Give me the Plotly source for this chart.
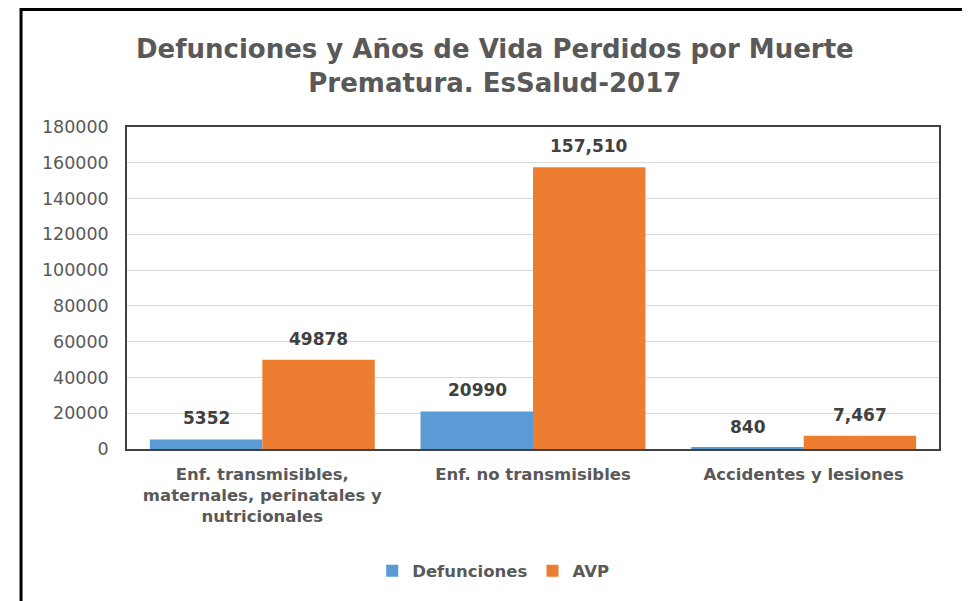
import plotly.graph_objects as go

categories = ["Enf. transmisibles,<br>maternales, perinatales y<br>nutricionales",
              "Enf. no transmisibles",
              "Accidentes y lesiones"]
defunciones = [5352, 20990, 840]
avp = [49878, 157510, 7467]
def_labels = ["5352", "20990", "840"]
avp_labels = ["49878", "157,510", "7,467"]
y_ticks = [0, 20000, 40000, 60000, 80000, 100000, 120000, 140000, 160000, 180000]

FONT = "DejaVu Sans"
BLUE, ORANGE = "#5B9BD5", "#ED7D31"

fig = go.Figure()
fig.add_trace(go.Bar(name="Defunciones", x=categories, y=defunciones, marker_color=BLUE,
                     marker_line_width=0))
fig.add_trace(go.Bar(name="AVP", x=categories, y=avp, marker_color=ORANGE,
                     marker_line_width=0))

# data labels placed from data values (shifted to sit over each bar of the group)
for vals, labels, shift in ((defunciones, def_labels, -56), (avp, avp_labels, 56)):
    for c, v, t in zip(categories, vals, labels):
        fig.add_annotation(x=c, y=v, text=t, showarrow=False, xref="x", yref="y",
                           xanchor="center", yanchor="bottom", xshift=shift, yshift=9,
                           font=dict(family=FONT, size=17, color="#404040", weight="bold"))

fig.update_layout(
    width=962, height=593,
    margin=dict(l=119, r=31, t=119, b=152),
    paper_bgcolor="white", plot_bgcolor="white",
    barmode="group", bargap=0.169, bargroupgap=0,
    title=dict(text="Defunciones y Años de Vida Perdidos por Muerte<br>Prematura. EsSalud-2017",
               x=0.453, xanchor="center", xref="paper", y=0.916, yanchor="middle",
               font=dict(family=FONT, size=26, color="#595959", weight="bold")),
    legend=dict(orientation="h", x=0.451, xanchor="center", y=-0.379, yanchor="middle",
                font=dict(family=FONT, size=16.5, color="#595959", weight="bold")),
    font=dict(family=FONT),
    showlegend=True,
)
fig.update_xaxes(showline=True, linecolor="#404040", linewidth=1.5, mirror=True,
                 tickfont=dict(family=FONT, size=16.5, color="#595959", weight="bold"),
                 ticks="", showgrid=False, ticklabelstandoff=9)
fig.update_yaxes(range=[0, 180000], tickvals=y_ticks, ticktext=[str(v) for v in y_ticks],
                 showline=True, linecolor="#404040", linewidth=1.5, mirror=True,
                 gridcolor="#D9D9D9", gridwidth=1, zeroline=False,
                 tickfont=dict(family=FONT, size=17.5, color="#595959"),
                 ticks="", ticklabelstandoff=13)

# outer frame of the chart
fig.add_shape(type="rect", xref="paper", yref="paper",
              x0=-0.1305, x1=1.0333, y0=-0.7, y1=1.365,
              line=dict(color="black", width=3), fillcolor="rgba(0,0,0,0)", layer="below")

fig.write_html("out.html")
